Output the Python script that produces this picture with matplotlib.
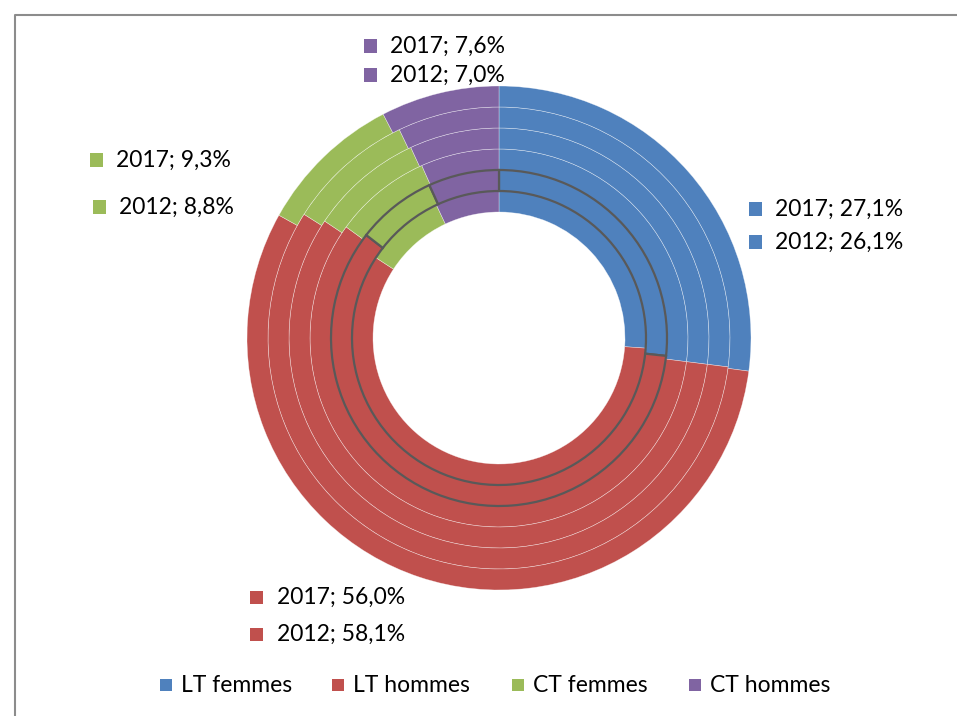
import matplotlib
matplotlib.use("Agg")
import matplotlib.pyplot as plt
from matplotlib.patches import Rectangle
from matplotlib.lines import Line2D

categories = ["LT femmes", "LT hommes", "CT femmes", "CT hommes"]
colors = ["#4F81BD", "#C0504D", "#9BBB59", "#8064A2"]
years = ["2012", "2013", "2014", "2015", "2016", "2017"]
lt_femmes = [26.1, 26.7, 27.0, 27.0, 27.0, 27.1]
lt_hommes = [58.1, 58.8, 58.0, 57.4, 57.0, 56.0]
ct_femmes = [8.8, 7.7, 8.3, 8.7, 8.9, 9.3]
ct_hommes = [7.0, 6.8, 6.7, 6.9, 7.1, 7.6]

plt.rcParams['font.family'] = ['Lato', 'DejaVu Sans']

W, H = 957, 716
fig = plt.figure(figsize=(W / 100, H / 100), dpi=100)

cx, cy, R = 499, 338, 252
half = 260
ax = fig.add_axes([(cx - half) / W, (H - cy - half) / H, 2 * half / W, 2 * half / H])
lim = half / R

hole = 126 / R
ring_w = 21 / R
for i, yr in enumerate(years):
    vals = [lt_femmes[i], lt_hommes[i], ct_femmes[i], ct_hommes[i]]
    outer = hole + ring_w * (i + 1)
    if yr == "2013":
        wp = dict(width=ring_w, edgecolor="#595959", linewidth=1.6, zorder=5)
    else:
        wp = dict(width=ring_w, edgecolor=(1, 1, 1, 0.55), linewidth=0.4, zorder=2)
    ax.pie(vals, radius=outer, colors=colors, startangle=90, counterclock=False,
           wedgeprops=wp, frame=True)
ax.set_xlim(-lim, lim)
ax.set_ylim(-lim, lim)
ax.set_aspect('equal')
ax.axis('off')

# data labels (2017 outer ring, 2012 inner ring)
label_pos = {
    "CT hommes": [(370, 46, "2017", ct_hommes[-1]), (370, 75, "2012", ct_hommes[0])],
    "CT femmes": [(96, 160, "2017", ct_femmes[-1]), (99, 207, "2012", ct_femmes[0])],
    "LT femmes": [(755, 209, "2017", lt_femmes[-1]), (755, 242, "2012", lt_femmes[0])],
    "LT hommes": [(257, 597, "2017", lt_hommes[-1]), (257, 634, "2012", lt_hommes[0])],
}
sq = 13
for cat, items in label_pos.items():
    col = colors[categories.index(cat)]
    for (x, y, yr, v) in items:
        fig.patches.append(Rectangle(((x - sq / 2) / W, (H - y - sq / 2) / H), sq / W, sq / H,
                                     transform=fig.transFigure, facecolor=col, edgecolor='none'))
        txt = f"{yr}; {v:.1f}%".replace('.', ',')
        fig.text((x + 20) / W, (H - y) / H, txt, fontsize=16.5, va='center', ha='left', color='black')

# legend
leg_x = [166, 338, 518, 695]
for xk, cat, col in zip(leg_x, categories, colors):
    fig.patches.append(Rectangle(((xk - 6) / W, (H - 685 - 6) / H), 12 / W, 12 / H,
                                 transform=fig.transFigure, facecolor=col, edgecolor='none'))
    fig.text((xk + 15) / W, (H - 685) / H, cat, fontsize=16.5, va='center', ha='left')

# border
fig.add_artist(Line2D([15 / W, 15 / W, 1.0], [0, (H - 15) / H, (H - 15) / H],
                      transform=fig.transFigure, color="#8c8c8c", linewidth=1.5))

fig.savefig("out.png", dpi=100)
